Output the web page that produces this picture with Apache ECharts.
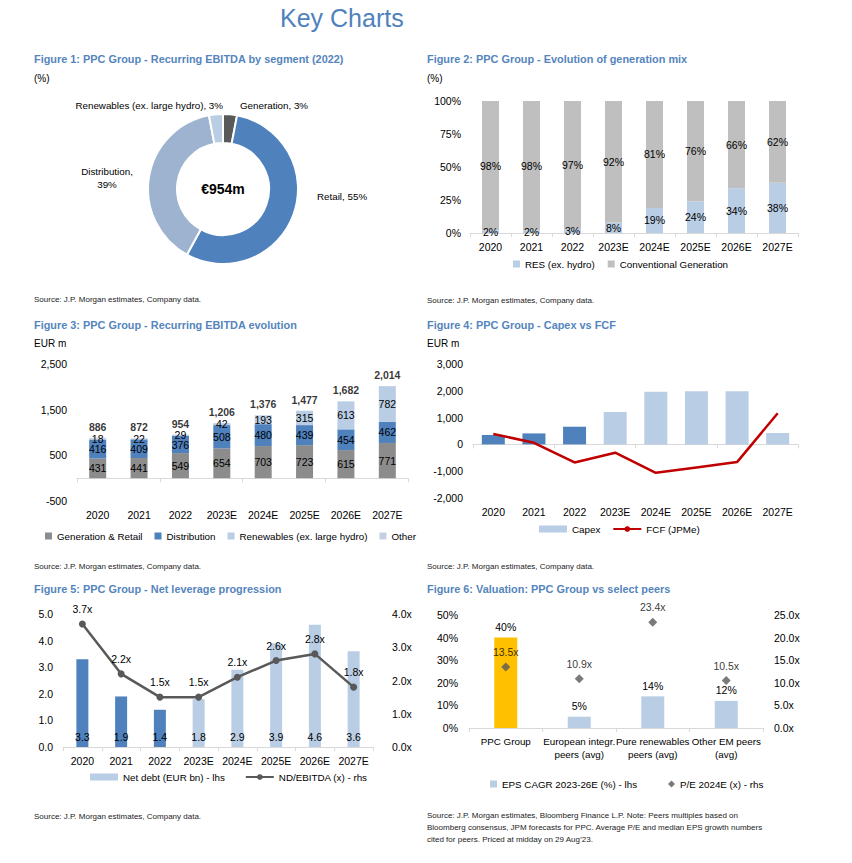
<!DOCTYPE html>
<html>
<head>
<meta charset="utf-8">
<script src="https://cdn.jsdelivr.net/npm/echarts@6/dist/echarts.min.js"></script>
<style>
html,body{margin:0;padding:0;background:#fff;}
#c{width:852px;height:863px;}
</style>
</head>
<body>
<div id="c"></div>
<script>
// ---------------- DATA ----------------
const years = ['2020','2021','2022','2023E','2024E','2025E','2026E','2027E'];

// Figure 1
const segNames = ['Generation','Retail','Distribution','Renewables (ex. large hydro)'];
const segShares = [3,55,39,3];
const ebitda2022 = 954;

// Figure 2
const resShare = [2,2,3,8,19,24,34,38];
const convShare = [98,98,97,92,81,76,66,62];

// Figure 3
const genRetail = [431,441,549,654,703,723,615,771];
const distribution = [416,409,376,508,480,439,454,462];
const renewables = [18,22,29,42,193,315,613,782];
const otherSeg = [21,0,0,2,0,0,0,0];
const ebitdaTotal = [886,872,954,1206,1376,1477,1682,2014];

// Figure 4
const capex = [350,410,660,1210,1960,1980,1980,425];
const fcf = [390,60,-675,-310,-1060,-860,-660,1160];

// Figure 5
const netDebt = [3.3,1.9,1.4,1.8,2.9,3.9,4.6,3.6];
const ndEbitda = [3.7,2.2,1.5,1.5,2.1,2.6,2.8,1.8];

// Figure 6
const peers = ['PPC Group','European integr.\npeers (avg)','Pure renewables\npeers (avg)','Other EM peers\n(avg)'];
const epsCagr = [40,5,14,12];
const pe2024 = [13.5,10.9,23.4,10.5];

// ---------------- STYLE ----------------
const NARROW = "'Liberation Sans',Arial,sans-serif";
const SANS = "'Liberation Sans',Arial,sans-serif";
const DARK = '#4f81bd', LIGHT = '#b9cde5', CONV = '#bfbfbf', GRAY = '#595959',
      GENG = '#8c8c8c', OTHER = '#c6d0e4', GOLD = '#ffc000', RED = '#c00000', AXIS = '#d9d9d9';
const TITLE_C = '#5585bd';
const isEst = years.map(y => y.endsWith('E'));
const FS = 10.5;

const lbl = {fontFamily: NARROW, fontSize: FS, color: '#000'};
const legText = {fontFamily: NARROW, fontSize: 9.8, color: '#000'};

function txt(text, x, y, font, fill, align) {
  return {type:'text', x:x, y:y, silent:true,
    style:{text:text, font:font, fill:fill, verticalAlign:'middle', align:align||'left'}};
}
const TF = "bold 10.9px " + NARROW;
const SF = "8px " + SANS;
const SUBF = "10px " + NARROW;

const graphics = [
  txt('Key Charts', 280, 18, "25px " + SANS, '#4f81bd'),
  txt('Figure 1: PPC Group - Recurring EBITDA by segment (2022)', 34, 59, TF, TITLE_C),
  txt('(%)', 34, 78, SUBF, '#000'),
  txt('Source: J.P. Morgan estimates, Company data.', 34, 299, SF, '#222'),
  txt('Figure 2: PPC Group - Evolution of generation mix', 427, 59, TF, TITLE_C),
  txt('(%)', 427, 78, SUBF, '#000'),
  txt('Source: J.P. Morgan estimates, Company data.', 427, 300, SF, '#222'),
  txt('Figure 3: PPC Group - Recurring EBITDA evolution', 34, 325, TF, TITLE_C),
  txt('EUR m', 34, 343, SUBF, '#000'),
  txt('Source: J.P. Morgan estimates, Company data.', 34, 566, SF, '#222'),
  txt('Figure 4: PPC Group - Capex vs FCF', 427, 325, TF, TITLE_C),
  txt('EUR m', 427, 343, SUBF, '#000'),
  txt('Source: J.P. Morgan estimates, Company data.', 427, 566, SF, '#222'),
  txt('Figure 5: PPC Group - Net leverage progression', 34, 589, TF, TITLE_C),
  txt('Source: J.P. Morgan estimates, Company data.', 34, 816, SF, '#222'),
  txt('Figure 6: Valuation: PPC Group vs select peers', 427, 589, TF, TITLE_C),
  txt('Source: J.P. Morgan estimates, Bloomberg Finance L.P. Note: Peers multiples based on', 427, 815, SF, '#222'),
  txt('Bloomberg consensus, JPM forecasts for PPC. Average P/E and median EPS growth numbers', 427, 827, SF, '#222'),
  txt('cited for peers. Priced at midday on 29 Aug\u201923.', 427, 839, SF, '#222'),
  txt('\u20ac' + ebitda2022 + 'm', 223, 189, "bold 14px " + SANS, '#000', 'center')
];

const pieLabelPos = [
  {x:240, y:105, align:'left'},
  {x:317, y:196, align:'left'},
  {x:107, y:178, align:'center'},
  {x:223, y:105, align:'right'}
];
const pieColors = [GRAY, DARK, '#9db3d0', LIGHT];

function catAxis(gridIndex, data, extra) {
  return Object.assign({
    type:'category', gridIndex:gridIndex, data:data,
    axisLine:{show:true, lineStyle:{color:AXIS}},
    axisTick:{show:true, length:4, lineStyle:{color:AXIS}},
    axisLabel:Object.assign({margin:8, interval:0}, lbl),
    splitLine:{show:false}
  }, extra || {});
}
function valAxis(gridIndex, min, max, interval, fmt, extra) {
  return Object.assign({
    type:'value', gridIndex:gridIndex, min:min, max:max, interval:interval,
    axisLine:{show:false}, axisTick:{show:false}, splitLine:{show:false},
    axisLabel:Object.assign({margin:10, formatter:fmt}, lbl)
  }, extra || {});
}
const thousands = v => v.toLocaleString('en-US');

const option = {
  animation:false,
  backgroundColor:'#fff',
  graphic: graphics,
  grid:[
    {left:470, top:101, width:328, height:132, outerBoundsMode:'none'},
    {left:77, top:364, width:331, height:137, outerBoundsMode:'none'},
    {left:473, top:364, width:325, height:134, outerBoundsMode:'none'},
    {left:63, top:614, width:310, height:133, outerBoundsMode:'none'},
    {left:469, top:615, width:294, height:113, outerBoundsMode:'none'}
  ],
  xAxis:[
    catAxis(0, years),
    catAxis(1, years, {position:'bottom', axisLine:{show:false, onZero:false}, axisTick:{show:false}}),
    catAxis(1, years, {position:'top', axisLine:{show:true, onZero:true, lineStyle:{color:AXIS}},
      axisTick:{show:true, inside:true, length:4, lineStyle:{color:AXIS}}, axisLabel:{show:false}}),
    catAxis(2, years, {position:'bottom', axisLine:{show:false, onZero:false}, axisTick:{show:false}}),
    catAxis(2, years, {position:'top', axisLine:{show:true, onZero:true, lineStyle:{color:AXIS}},
      axisTick:{show:true, inside:true, length:4, lineStyle:{color:AXIS}}, axisLabel:{show:false}}),
    catAxis(3, years),
    catAxis(4, peers, {axisLabel:Object.assign({margin:7, interval:0, lineHeight:13}, lbl, {fontSize:9.8})})
  ],
  yAxis:[
    valAxis(0, 0, 100, 25, v => v + '%', {axisLabel:Object.assign({margin:9, formatter:v => v + '%'}, lbl)}),
    valAxis(1, -500, 2500, 500, v => ((v + 500) % 1000 === 0 ? thousands(v) : '')),
    valAxis(2, -2000, 3000, 1000, thousands),
    valAxis(3, 0, 5, 1, v => v.toFixed(1)),
    valAxis(3, 0, 4, 1, v => v.toFixed(1) + 'x', {position:'right', axisLabel:Object.assign({margin:19, formatter:v => v.toFixed(1) + 'x'}, lbl)}),
    valAxis(4, 0, 50, 10, v => v + '%', {axisLabel:Object.assign({margin:11, formatter:v => v + '%'}, lbl)}),
    valAxis(4, 0, 25, 5, v => v.toFixed(1) + 'x', {position:'right', axisLabel:Object.assign({margin:11, formatter:v => v.toFixed(1) + 'x'}, lbl)})
  ],
  legend:[
    {left:513, top:259, padding:0, itemGap:13, itemWidth:7, itemHeight:7, textStyle:legText,
      data:[{name:'RES (ex. hydro)', icon:'rect'}, {name:'Conventional Generation', icon:'rect'}]},
    {left:45, top:531, padding:0, itemGap:12, itemWidth:7, itemHeight:7, textStyle:legText,
      data:[{name:'Generation & Retail', icon:'rect'}, {name:'Distribution', icon:'rect'},
            {name:'Renewables (ex. large hydro)', icon:'rect'}, {name:'Other', icon:'rect'}]},
    {left:539, top:524, padding:0, itemGap:12, itemWidth:28, itemHeight:7, textStyle:legText,
      data:[{name:'Capex', icon:'rect'}, {name:'FCF (JPMe)'}]},
    {left:90, top:772, padding:0, itemGap:20, itemWidth:28, itemHeight:7, textStyle:legText,
      data:[{name:'Net debt (EUR bn) - lhs', icon:'rect'}, {name:'ND/EBITDA (x) - rhs'}]},
    {left:490, top:779, padding:0, itemGap:31, itemWidth:7, itemHeight:7, textStyle:legText,
      data:[{name:'EPS CAGR 2023-26E (%) - lhs', icon:'rect'}, {name:'P/E 2024E (x) - rhs', icon:'diamond'}]}
  ],
  series:[
    // Figure 1
    {type:'pie', name:'Recurring EBITDA 2022', center:[223,189], radius:[46,75],
      startAngle:90, clockwise:true, silent:true,
      itemStyle:{borderColor:'#fff', borderWidth:2},
      label:{show:true, position:'outside', fontFamily:NARROW, fontSize:9.8, color:'#000', lineHeight:13,
        overflow:'none', width:300,
        formatter:p => p.dataIndex === 2 ? p.name + ',\n' + p.value + '%' : p.name + ', ' + p.value + '%'},
      labelLine:{show:false},
      labelLayout:p => {const q = pieLabelPos[p.dataIndex]; return {x:q.x, y:q.y, align:q.align, verticalAlign:'middle'};},
      data:segNames.map((n,i) => ({name:n, value:segShares[i], itemStyle:{color:pieColors[i]}}))
    },
    // Figure 2
    {type:'bar', name:'RES (ex. hydro)', xAxisIndex:0, yAxisIndex:0, stack:'mix', barWidth:17,
      itemStyle:{color:LIGHT}, label:Object.assign({show:true, position:'inside', formatter:p => p.value + '%'}, lbl),
      data:resShare},
    {type:'bar', name:'Conventional Generation', xAxisIndex:0, yAxisIndex:0, stack:'mix', barWidth:17,
      itemStyle:{color:CONV}, label:Object.assign({show:true, position:'inside', formatter:p => p.value + '%'}, lbl),
      data:convShare},
    // Figure 3
    {type:'bar', name:'Generation & Retail', xAxisIndex:1, yAxisIndex:1, stack:'eb', barWidth:17,
      itemStyle:{color:GENG}, label:Object.assign({show:true, position:'inside'}, lbl), data:genRetail},
    {type:'bar', name:'Distribution', xAxisIndex:1, yAxisIndex:1, stack:'eb', barWidth:17,
      itemStyle:{color:DARK}, label:Object.assign({show:true, position:'inside'}, lbl), data:distribution},
    {type:'bar', name:'Renewables (ex. large hydro)', xAxisIndex:1, yAxisIndex:1, stack:'eb', barWidth:17,
      itemStyle:{color:LIGHT}, label:Object.assign({show:true, position:'inside'}, lbl), data:renewables},
    {type:'bar', name:'Other', xAxisIndex:1, yAxisIndex:1, stack:'eb', barWidth:17,
      itemStyle:{color:OTHER}, data:otherSeg},
    {type:'scatter', name:'Total', xAxisIndex:1, yAxisIndex:1, symbolSize:1, silent:true,
      itemStyle:{color:'rgba(0,0,0,0)'},
      label:Object.assign({show:true, position:'top', distance:5, formatter:p => thousands(p.value)}, lbl, {fontWeight:'bold'}),
      data:ebitdaTotal},
    // Figure 4
    {type:'bar', name:'Capex', xAxisIndex:3, yAxisIndex:2, barWidth:23, itemStyle:{color:LIGHT},
      data:capex.map((v,i) => ({value:v, itemStyle:{color:isEst[i] ? LIGHT : DARK}}))},
    {type:'line', name:'FCF (JPMe)', xAxisIndex:3, yAxisIndex:2, symbol:'none', itemStyle:{color:RED},
      lineStyle:{color:RED, width:2.5}, data:fcf},
    // Figure 5
    {type:'bar', name:'Net debt (EUR bn) - lhs', xAxisIndex:5, yAxisIndex:3, barWidth:12, itemStyle:{color:LIGHT},
      label:Object.assign({show:true, position:'insideBottom', distance:5, formatter:p => p.value.toFixed(1)}, lbl),
      data:netDebt.map((v,i) => ({value:v, itemStyle:{color:isEst[i] ? LIGHT : DARK}}))},
    {type:'line', name:'ND/EBITDA (x) - rhs', xAxisIndex:5, yAxisIndex:4, symbol:'circle', symbolSize:7,
      itemStyle:{color:GRAY}, lineStyle:{color:GRAY, width:2.5},
      label:Object.assign({show:true, position:'top', distance:6, formatter:p => p.value.toFixed(1) + 'x'}, lbl),
      data:ndEbitda},
    // Figure 6
    {type:'bar', name:'EPS CAGR 2023-26E (%) - lhs', xAxisIndex:6, yAxisIndex:5, barWidth:23, itemStyle:{color:LIGHT},
      label:Object.assign({show:true, position:'top', distance:5, formatter:p => p.value + '%'}, lbl),
      data:epsCagr.map((v,i) => ({value:v, itemStyle:{color:i === 0 ? GOLD : LIGHT}}))},
    {type:'scatter', name:'P/E 2024E (x) - rhs', xAxisIndex:6, yAxisIndex:6, symbol:'diamond', symbolSize:9,
      itemStyle:{color:GRAY},
      label:Object.assign({show:true, position:'top', distance:5, formatter:p => p.value.toFixed(1) + 'x'}, lbl),
      data:pe2024}
  ]
};

const chart = echarts.init(document.getElementById('c'), null, {renderer:'svg', width:852, height:863});
chart.setOption(option);
</script>
</body>
</html>
